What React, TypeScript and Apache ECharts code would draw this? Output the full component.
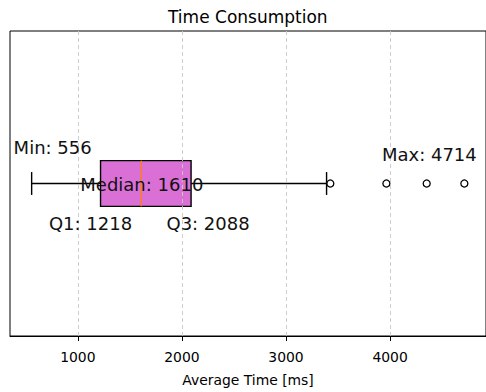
import React, { useEffect, useRef } from "react";
import * as echarts from "echarts";

const STAT_NAMES = ["Min", "Q1", "Median", "Q3", "Max"];
const STAT_VALUES = [556, 1218, 1610, 2088, 4714];
const WHISKER_LOW = 556;
const WHISKER_HIGH = 3390;
const OUTLIERS = [3426, 3965, 4352, 4714];
const X_TICKS = [1000, 2000, 3000, 4000];
const TITLE = "Time Consumption";
const X_NAME = "Average Time [ms]";

const FONT = "DejaVu Sans";

export default function App() {
  const ref = useRef<HTMLDivElement>(null);
  useEffect(() => {
    if (!ref.current) return;
    const chart = echarts.init(ref.current, undefined, { renderer: "svg" });
    const q1 = STAT_VALUES[1];
    const med = STAT_VALUES[2];
    const q3 = STAT_VALUES[3];
    const labelOffsets: Record<string, number[]> = {
      Min: [21, -36],
      Q1: [-10, 40],
      Median: [0.5, 0.5],
      Q3: [17, 40],
      Max: [-35, -29.5],
    };
    const option: any = {
      animation: false,
      backgroundColor: "#ffffff",
      textStyle: { fontFamily: FONT },
      grid: {
        left: 10,
        top: 31,
        width: 479,
        bottom: 49,
        show: true,
        borderColor: "#000000",
        borderWidth: 1,
        backgroundColor: "transparent",
      },
      xAxis: {
        type: "value",
        min: 348,
        max: 4922,
        name: X_NAME,
        nameLocation: "middle",
        nameGap: 37,
        nameTextStyle: { fontSize: 13.9, color: "#000", fontFamily: FONT },
        axisLine: { show: true, lineStyle: { color: "#000", width: 1 } },
        axisTick: {
          show: true,
          customValues: X_TICKS,
          length: 5,
          lineStyle: { color: "#000", width: 1 },
        },
        axisLabel: {
          customValues: X_TICKS,
          margin: 14,
          fontSize: 13.9,
          color: "#000",
          fontFamily: FONT,
          formatter: (v: number) => String(v),
        },
        splitLine: { show: false },
      },
      yAxis: {
        type: "value",
        min: 0.5,
        max: 1.5,
        show: false,
        splitLine: { show: false },
      },
      graphic: [
        {
          type: "text",
          left: 249 - 81,
          top: 8,
          style: {
            text: TITLE,
            fontSize: 17,
            fontFamily: FONT,
            fill: "#000",
          },
        },
      ],
      series: [
        {
          type: "scatter",
          z: 1,
          data: [],
          markLine: {
            silent: true,
            symbol: "none",
            label: { show: false },
            lineStyle: { color: "#c8c8c8", type: [4, 3], width: 0.9 },
            data: X_TICKS.map((v) => ({ xAxis: v })),
          },
        },
        {
          type: "custom",
          z: 3,
          encode: { x: [0, 1, 2, 3, 4], y: 5 },
          data: [[q1, med, q3, WHISKER_LOW, WHISKER_HIGH, 1]],
          renderItem: (params: any, api: any) => {
            const y = api.value(5);
            const pQ1 = api.coord([api.value(0), y]);
            const pMed = api.coord([api.value(1), y]);
            const pQ3 = api.coord([api.value(2), y]);
            const pLo = api.coord([api.value(3), y]);
            const pHi = api.coord([api.value(4), y]);
            const h = api.size([0, 0.15])[1];
            const cy = pQ1[1];
            const lw = 1.4;
            const ls = { stroke: "#000", lineWidth: lw };
            return {
              type: "group",
              children: [
                { type: "line", shape: { x1: pLo[0], y1: cy, x2: pQ1[0], y2: cy }, style: ls },
                { type: "line", shape: { x1: pQ3[0], y1: cy, x2: pHi[0], y2: cy }, style: ls },
                { type: "line", shape: { x1: pLo[0], y1: cy - h / 4, x2: pLo[0], y2: cy + h / 4 }, style: ls },
                { type: "line", shape: { x1: pHi[0], y1: cy - h / 4, x2: pHi[0], y2: cy + h / 4 }, style: ls },
                {
                  type: "rect",
                  shape: { x: pQ1[0], y: cy - h / 2, width: pQ3[0] - pQ1[0], height: h },
                  style: { fill: "#DA70D6", stroke: "#000", lineWidth: lw },
                },
                {
                  type: "line",
                  shape: { x1: pMed[0], y1: cy - h / 2, x2: pMed[0], y2: cy + h / 2 },
                  style: { stroke: "#ff7f0e", lineWidth: lw },
                },
              ],
            };
          },
        },
        {
          type: "scatter",
          z: 4,
          symbol: "circle",
          symbolSize: 7,
          itemStyle: { color: "transparent", borderColor: "#000", borderWidth: 1.3, opacity: 1 },
          data: OUTLIERS.map((v) => [v, 1]),
        },
        {
          type: "scatter",
          z: 5,
          symbolSize: 0,
          silent: true,
          itemStyle: { opacity: 1 },
          data: STAT_NAMES.map((n, i) => ({
            value: [STAT_VALUES[i], 1],
            label: {
              show: true,
              position: "inside",
              offset: labelOffsets[n],
              formatter: `${n}: ${STAT_VALUES[i]}`,
              fontSize: 18,
              fontFamily: FONT,
              color: "#111",
              opacity: 1,
            },
          })),
        },
      ],
    };
    chart.setOption(option);
    return () => chart.dispose();
  }, []);
  return (
    <div
      ref={ref}
      style={{ position: "fixed", left: 0, top: 0, width: 486, height: 392 }}
    />
  );
}
